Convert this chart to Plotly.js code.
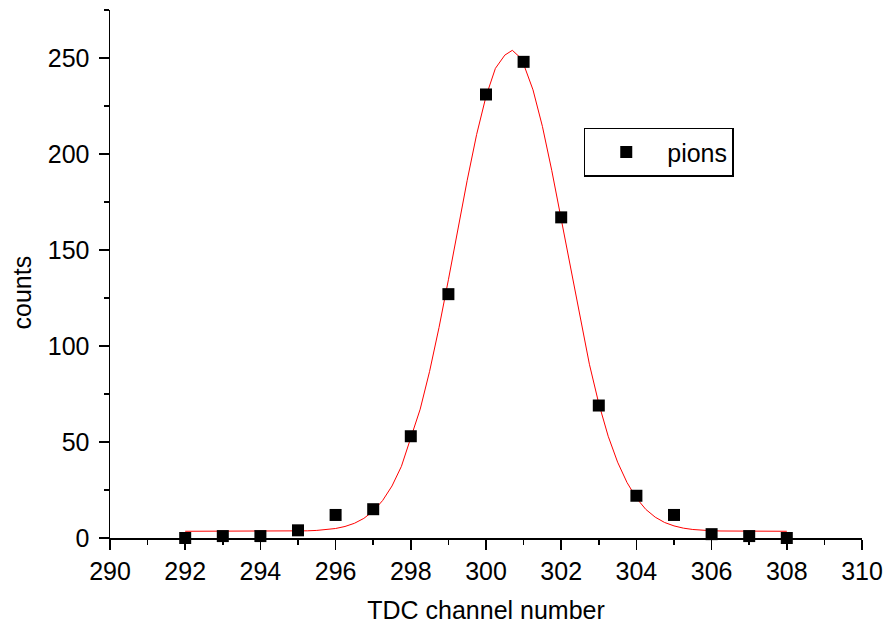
<!DOCTYPE html>
<html>
<head>
<meta charset="utf-8">
<script src="https://cdn.plot.ly/plotly-3.0.1.min.js"></script>
<style>html,body{margin:0;padding:0;background:#fff;}#chart{width:888px;height:625px;}</style>
</head>
<body>
<div id="chart"></div>
<script>
// Measured data (TDC channel vs counts)
const channels = [292, 293, 294, 295, 296, 297, 298, 299, 300, 301, 302, 303, 304, 305, 306, 307, 308];
const counts   = [0, 1, 1, 4, 12, 15, 53, 127, 231, 248, 167, 69, 22, 12, 2, 1, 0];

// Fit curve
const fitX = [292, 292.25, 292.5, 292.75, 293, 293.25, 293.5, 293.75, 294, 294.25, 294.5, 294.75,
              295, 295.25, 295.5, 295.75, 296, 296.25, 296.5, 296.75, 297, 297.25, 297.5, 297.75,
              298, 298.25, 298.5, 298.75, 299, 299.25, 299.5, 299.75, 300, 300.25, 300.5, 300.7,
              300.95, 301.25, 301.5, 301.75, 302, 302.25, 302.5, 302.75, 303, 303.25, 303.5, 303.75,
              304, 304.25, 304.5, 304.75, 305, 305.25, 305.5, 305.75, 306, 306.25, 306.5, 306.75,
              307, 307.25, 307.5, 307.75, 308];
const fitY = [3.5, 3.5, 3.5, 3.5, 3.5, 3.5, 3.5, 3.5, 3.5, 3.5, 3.53, 3.57,
              3.63, 3.74, 3.95, 4.32, 4.95, 6.0, 7.65, 10.2, 14.0, 19.5, 27.1, 37.3,
              52.0, 67.1, 86.8, 109.6, 134.5, 160.6, 186.3, 210.1, 230.0, 244.6, 251.5, 254.0,
              249.5, 233.4, 214.4, 191.3, 165.8, 139.7, 114.4, 90.5, 70.0, 53.0, 39.5, 28.9,
              20.8, 14.9, 10.85, 8.08, 6.3, 5.13, 4.43, 4.01, 3.77, 3.65, 3.58, 3.52,
              3.5, 3.5, 3.5, 3.5, 3.5];

const seriesName = 'pions';
const xTitle = 'TDC channel number';
const yTitle = 'counts';

const FONT = '"Liberation Sans", Arial, sans-serif';
const FS = 25;

const traces = [
  {
    x: fitX, y: fitY, type: 'scatter', mode: 'lines',
    line: {color: '#ff0000', width: 1},
    showlegend: false, hoverinfo: 'skip', cliponaxis: false
  },
  {
    x: channels, y: counts, type: 'scatter', mode: 'markers', name: seriesName,
    marker: {symbol: 'square', size: 12, color: '#000000', line: {width: 0}},
    cliponaxis: false
  }
];

const layout = {
  width: 888, height: 625,
  margin: {l: 110, r: 26, t: 10, b: 87, pad: 0},
  paper_bgcolor: '#ffffff', plot_bgcolor: '#ffffff',
  font: {family: FONT, size: FS, color: '#000000'},
  showlegend: true,
  legend: {
    x: 0.630, y: 0.777, xanchor: 'left', yanchor: 'top',
    bordercolor: '#000000', borderwidth: 1.5, bgcolor: '#ffffff',
    font: {family: FONT, size: FS, color: '#000000'},
    itemwidth: 72, itemsizing: 'constant',
    entrywidth: 165, entrywidthmode: 'pixels',
    tracegroupgap: 0
  },
  xaxis: {
    range: [290, 310], autorange: false,
    tickmode: 'linear', tick0: 290, dtick: 2,
    ticks: 'outside', ticklen: 10, tickwidth: 1.5, tickcolor: '#000',
    minor: {dtick: 1, ticks: 'outside', ticklen: 5, tickwidth: 1.5, tickcolor: '#000'},
    showline: true, linecolor: '#000', linewidth: 1.5,
    showgrid: false, zeroline: false,
    tickfont: {family: FONT, size: FS, color: '#000'},
    title: {text: xTitle, font: {family: FONT, size: FS, color: '#000'}, standoff: 18}
  },
  yaxis: {
    range: [0, 275], autorange: false,
    tickmode: 'linear', tick0: 0, dtick: 50,
    ticks: 'outside', ticklen: 10, tickwidth: 1.5, tickcolor: '#000',
    ticklabelstandoff: 4,
    minor: {dtick: 25, ticks: 'outside', ticklen: 5, tickwidth: 1.5, tickcolor: '#000'},
    showline: true, linecolor: '#000', linewidth: 1.5,
    showgrid: false, zeroline: false,
    tickfont: {family: FONT, size: FS, color: '#000'},
    title: {text: ''}
  },
  annotations: [
    {
      text: yTitle, xref: 'paper', yref: 'paper', x: -0.117, y: 0.465,
      xanchor: 'center', yanchor: 'middle', textangle: -90, showarrow: false,
      font: {family: FONT, size: FS, color: '#000'}
    }
  ],
  shapes: [
    {type: 'line', xref: 'paper', yref: 'y', x0: -0.0133, x1: 0, y0: 0, y1: 0,
     line: {color: '#000', width: 1.5}},
    {type: 'line', xref: 'x', yref: 'paper', x0: 290, x1: 290, y0: -0.019, y1: 0,
     line: {color: '#000', width: 1.5}}
  ]
};

Plotly.newPlot('chart', traces, layout, {displayModeBar: false, staticPlot: true});
</script>
</body>
</html>
